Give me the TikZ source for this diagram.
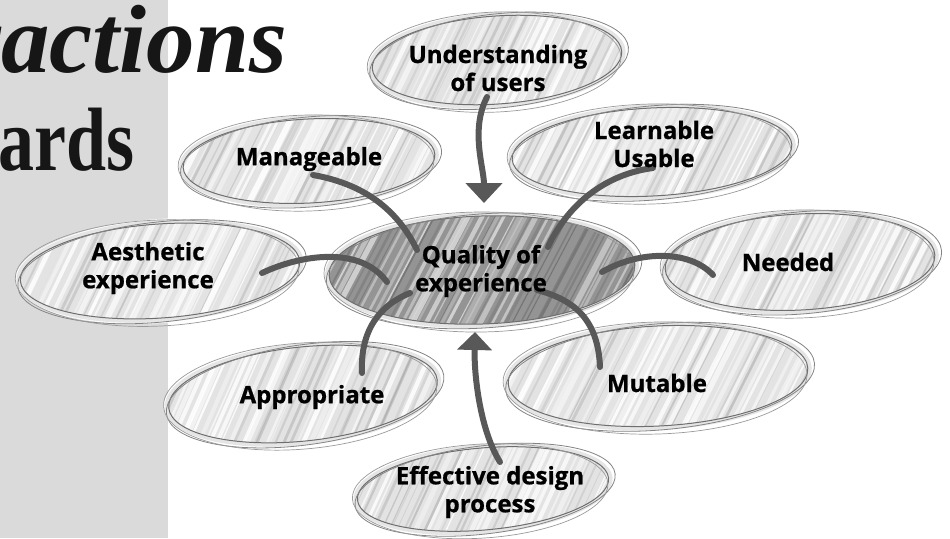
\documentclass[tikz,border=0pt]{standalone}
\usepackage{fontspec}
\setmainfont{Liberation Serif}
\newfontfamily\lblfont{Open Sans}[BoldFeatures={FakeBold=0.8}]
\usetikzlibrary{calc,arrows.meta}

\definecolor{panelgray}{RGB}{218,218,218}
\definecolor{ink}{RGB}{88,88,88}
\definecolor{pencil}{RGB}{110,110,110}
\definecolor{titleink}{RGB}{22,22,22}

% A pencil-sketched ellipse: #1 centre, #2 x radius, #3 y radius, #4 tilt,
% #5 base shade, #6 light streaks, #7 dark streaks
\newcommand\sketchblob[7]{%
  \begin{scope}[shift={(#1)},rotate=#4]
    \fill[white] (0,0) ellipse [x radius=#2+5, y radius=#3+5];
    \begin{scope}
      \clip (0,0) ellipse [x radius=#2, y radius=#3];
      \fill[#5] (-#2-5,-#3-5) rectangle (#2+5,#3+5);
      \foreach \k in {-30,...,30}{%
        \pgfmathsetmacro\sx{\k*6.5+6*rnd}%
        \pgfmathsetmacro\sw{1+5*rnd}%
        \pgfmathsetmacro\so{0.35+0.55*rnd}%
        \pgfmathsetmacro\sel{rnd}%
        \ifdim\sel pt<0.6pt
          \draw[#6, line width=\sw, opacity=\so] (\sx-40,70) -- (\sx+40,-70);
        \else
          \draw[#7, line width=0.5*\sw, opacity=0.5*\so] (\sx-40,70) -- (\sx+40,-70);
        \fi
      }
    \end{scope}
    \draw[black!22, line width=4, opacity=0.45] (0,0) ellipse [x radius=#2+2, y radius=#3+2];
    \draw[pencil, line width=1] (0,0) ellipse [x radius=#2, y radius=#3];
    \draw[pencil!85, line width=0.8, rotate=2] (2,1) ellipse [x radius=#2+5, y radius=#3+3];
    \draw[pencil!70, line width=0.7, rotate=-1.5] (-3,2) ellipse [x radius=#2+2, y radius=#3+6];
  \end{scope}}

\tikzset{
  lbl/.style={font=\lblfont\bfseries\fontsize{24}{28}\selectfont, align=center,
    inner sep=0pt, text=black},
  conn/.style={draw=ink, line width=6, line cap=round},
  bigarrow/.style={-{Triangle[length=20pt,width=36pt]}},
  title/.style={anchor=base east, inner sep=0pt, text=titleink}
}

\begin{document}
\begin{tikzpicture}[x=1pt,y=-1pt]
  \pgfmathsetseed{4242}
  \useasboundingbox (0,0) rectangle (950,538);
  \fill[white] (0,0) rectangle (950,538);
  \fill[panelgray] (0,0) rectangle (168,538);

  % heading fragments on the side panel
  \node[title, font=\fontsize{97}{97}\selectfont\bfseries\itshape] (head1) at (287,72) {ractions};
  \node[title, font=\fontsize{90}{90}\selectfont\bfseries] (head2) at (135,170) {\scalebox{0.8}[1]{ards}};

  % ellipse centres
  \coordinate (Uc)  at (497,60);
  \coordinate (Lc)  at (652,152);
  \coordinate (Mc)  at (309,161);
  \coordinate (Ac)  at (160,271);
  \coordinate (Qc)  at (482,270);
  \coordinate (Nc)  at (800,262);
  \coordinate (Muc) at (658,376);
  \coordinate (Apc) at (303,394);
  \coordinate (Ec)  at (483,489);

  \sketchblob{Uc}{125}{44}{4}{black!11}{white}{black!40}
  \sketchblob{Lc}{140}{44}{3}{black!11}{white}{black!40}
  \sketchblob{Mc}{126}{42}{3}{black!11}{white}{black!40}
  \sketchblob{Ac}{140}{47}{4}{black!11}{white}{black!40}
  \sketchblob{Nc}{135}{48}{3}{black!11}{white}{black!40}
  \sketchblob{Muc}{150}{50}{3}{black!11}{white}{black!40}
  \sketchblob{Apc}{135}{47}{6}{black!11}{white}{black!40}
  \sketchblob{Ec}{126}{41}{5}{black!11}{white}{black!40}
  \sketchblob{Qc}{153}{54}{2}{black!42}{black!15}{black!70}

  % connectors into the centre
  \draw[conn, bigarrow] ($(Uc)+(-10,37)$) .. controls +(-17,33) and +(0,-35) .. ($(Qc)+(2,-67)$);
  \draw[conn] ($(Mc)+(4,14)$) .. controls +(57,10) and +(-17,-35) .. ($(Qc)+(-65,-20)$);
  \draw[conn] ($(Lc)+(1,16)$) .. controls +(-53,7) and +(17,-37) .. ($(Qc)+(66,-23)$);
  \draw[conn] ($(Ac)+(102,2)$) .. controls +(38,-18) and +(-27,-37) .. ($(Qc)+(-95,12)$);
  \draw[conn] ($(Nc)+(-87,13)$) .. controls +(-23,-25) and +(38,-22) .. ($(Qc)+(120,2)$);
  \draw[conn] ($(Muc)+(-58,-9)$) .. controls +(-2,-47) and +(38,10) .. ($(Qc)+(55,20)$);
  \draw[conn] ($(Apc)+(59,-21)$) .. controls +(-2,-43) and +(-30,12) .. ($(Qc)+(-72,23)$);
  \draw[conn, -{Triangle[length=18pt,width=34pt]}] ($(Ec)+(17,-27)$) .. controls +(-20,-32) and +(-1,43) .. ($(Qc)+(-7,62)$);

  % labels
  \node[lbl] (U)  at ($(Uc)+(1,8)$)   {Understanding\\of users};
  \node[lbl] (L)  at ($(Lc)+(2,-8)$)  {Learnable\\Usable};
  \node[lbl] (M)  at ($(Mc)+(0,-2)$)  {Manageable};
  \node[lbl] (A)  at ($(Ac)+(-12,-3)$) {Aesthetic\\experience};
  \node[lbl] (Q)  at ($(Qc)+(-1,1)$)  {Quality of\\experience};
  \node[lbl] (N)  at ($(Nc)+(-12,0)$) {Needed};
  \node[lbl] (Mu) at ($(Muc)+(-1,7)$) {Mutable};
  \node[lbl] (Ap) at ($(Apc)+(9,3)$)  {Appropriate};
  \node[lbl] (E)  at ($(Ec)+(7,3)$)   {Effective design\\process};
\end{tikzpicture}
\end{document}
